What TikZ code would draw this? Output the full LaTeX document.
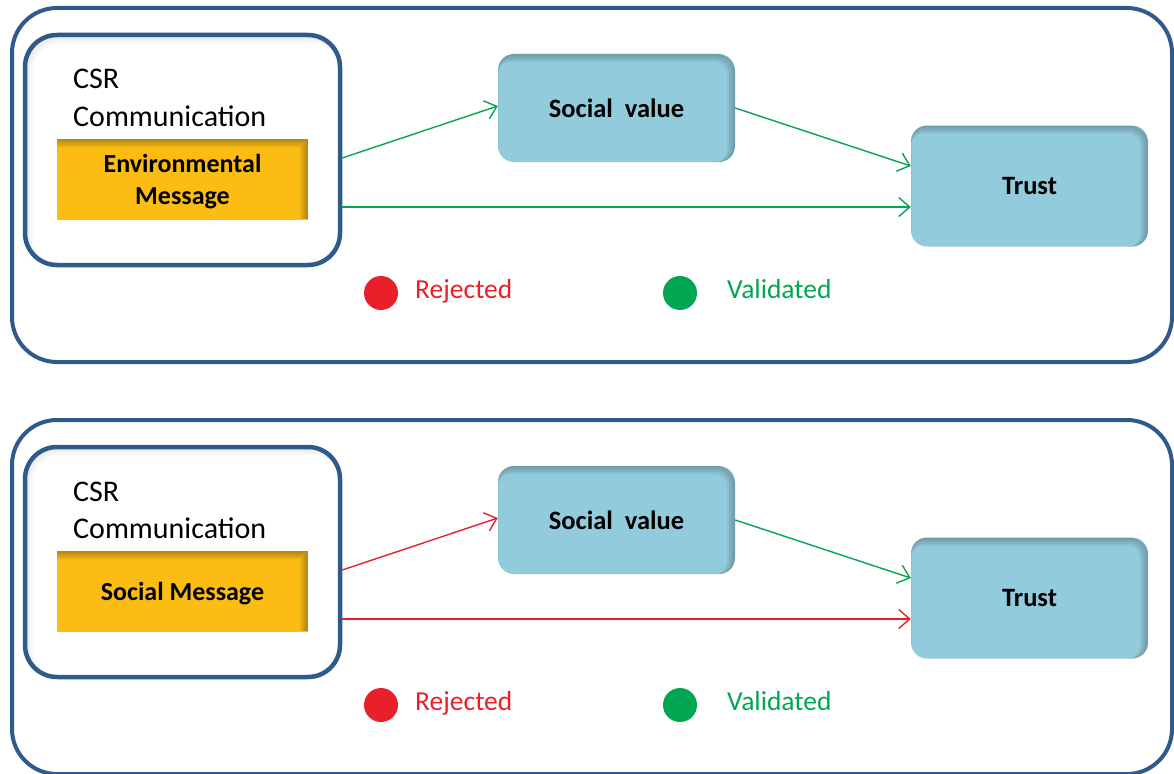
\documentclass[tikz,border=0pt]{standalone}
\usepackage{fontspec}
\setmainfont{Carlito}
\usetikzlibrary{arrows.meta}
\definecolor{csrblue}{HTML}{2E5A8C}
\definecolor{csraqua}{HTML}{92CBDC}
\definecolor{csrgold}{HTML}{FBBD13}
\definecolor{csrgreen}{HTML}{00A651}
\definecolor{csrred}{HTML}{E8202A}

\tikzset{
  % soft shadow inside a box: corner radius, opacity, x direction
  inshade/.style n args={3}{path picture={
    \foreach \s in {1,...,4}{
      \draw[black, opacity=#2, line width={2pt*\s}, rounded corners=#1]
        ([shift={({#3*1pt*\s},{-1pt*\s})}]path picture bounding box.south west) rectangle
        ([shift={({#3*1pt*\s},{-1pt*\s})}]path picture bounding box.north east);}}},
  panel/.style={draw=csrblue, line width=4pt, rounded corners=45pt},
  csrbox/.style={draw=csrblue, fill=white, line width=4.5pt, rounded corners=32pt,
    minimum width=315pt, minimum height=230pt, inshade={32pt}{.025}{1}},
  msgbox/.style={fill=csrgold, inner sep=0pt, align=center,
    minimum width=251pt, minimum height=80pt,
    font=\fontsize{26}{32}\selectfont\bfseries, inshade={0pt}{.07}{-1}},
  valbox/.style={fill=csraqua, rounded corners=16pt, inner sep=0pt,
    minimum width=237pt, font=\fontsize{26.5}{30}\selectfont\bfseries,
    inshade={16pt}{.06}{-1}},
  csrtext/.style={anchor=base west, inner sep=0pt, font=\fontsize{30}{34}\selectfont},
  dot/.style={circle, inner sep=0pt, minimum size=34pt},
  legend/.style={anchor=base west, inner sep=0pt, font=\fontsize{27.5}{32}\selectfont},
  link/.style={line width=1.4pt, -{Straight Barb[length=11pt,width=19pt,line width=1.4pt]}}
}

\begin{document}
\begin{tikzpicture}[x=1pt,y=-1pt]
  \useasboundingbox (0,0) rectangle (1174,773);
  \foreach \i/\o/\msg/\ca in {1/0/{Environmental\\Message}/csrgreen,
                              2/412/{Social Message}/csrred}{
    % frame of the panel
    \draw[panel] (12,8+\o) rectangle (1172,362+\o);
    \node[csrbox] (csr\i) at (182.5,150+\o) {};
    \node[csrtext] (csrl\i) at (73,89+\o) {CSR};
    \node[csrtext] (coml\i) at (73,126+\o) {Communication};
    \node[msgbox] (msg\i) at (182.5,179+\o) {};
    \node[font=\fontsize{26}{32}\selectfont\bfseries, align=center] (msgl\i)
      at ([yshift=-3pt]msg\i.center) {\msg};
    \node[valbox, minimum height=108pt] (sv\i) at (616.5,108+\o) {Social\ \ value};
    \node[valbox, minimum height=121pt] (trust\i) at (1029.5,186+\o) {Trust};
    % links
    \draw[link, \ca] ([yshift=-8pt]csr\i.east) -- ([yshift=2pt]sv\i.west);
    \draw[link, \ca] ([yshift=-57pt]csr\i.east) -- ([yshift=-21pt]trust\i.west);
    \draw[link, csrgreen] (sv\i.east) -- ([yshift=20pt]trust\i.west);
    % legend
    \node[dot, fill=csrred] (rej\i) at (381,293+\o) {};
    \node[legend, text=csrred] (rejl\i) at (415,298+\o) {Rejected};
    \node[dot, fill=csrgreen] (val\i) at (680,293+\o) {};
    \node[legend, text=csrgreen] (vall\i) at (727,298+\o) {Validated};
  }
\end{tikzpicture}
\end{document}
